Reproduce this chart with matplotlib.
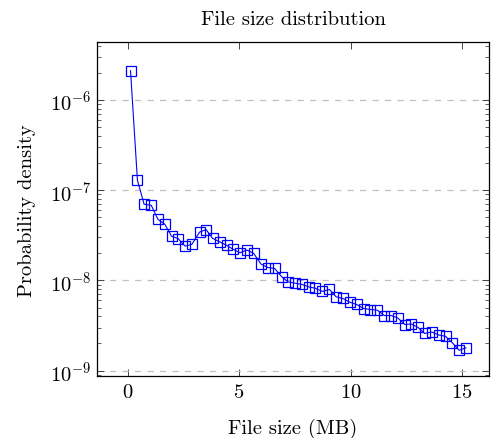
import matplotlib
matplotlib.use("Agg")
import matplotlib.pyplot as plt
from matplotlib.ticker import NullFormatter

plt.rcParams['font.family'] = ['cmr10', 'DejaVu Serif']
plt.rcParams['mathtext.fontset'] = 'cm'
plt.rcParams['axes.formatter.use_mathtext'] = True
plt.rcParams['axes.unicode_minus'] = True

# file size bin centres (MB)
size_mb = [0.13, 0.44, 0.74, 1.06, 1.36, 1.67, 1.97, 2.27, 2.58, 2.88,
           3.23, 3.52, 3.81, 4.14, 4.44, 4.74, 5.04, 5.35, 5.65, 5.98,
           6.29, 6.59, 6.91, 7.20, 7.51, 7.82, 8.13, 8.42, 8.74, 9.05,
           9.35, 9.65, 9.96, 10.27, 10.59, 10.89, 11.20, 11.51, 11.82, 12.12,
           12.44, 12.72, 13.03, 13.32, 13.64, 13.96, 14.26, 14.57, 14.87, 15.17]

# probability density
density = [2.12e-6, 1.29e-7, 6.99e-8, 6.81e-8, 4.76e-8, 4.19e-8, 3.10e-8, 2.90e-8, 2.40e-8, 2.51e-8,
           3.44e-8, 3.66e-8, 2.93e-8, 2.67e-8, 2.45e-8, 2.21e-8, 2.03e-8, 2.17e-8, 2.00e-8, 1.52e-8,
           1.39e-8, 1.36e-8, 1.10e-8, 9.62e-9, 9.33e-9, 9.03e-9, 8.48e-9, 8.19e-9, 7.55e-9, 7.94e-9,
           6.59e-9, 6.31e-9, 5.74e-9, 5.41e-9, 4.88e-9, 4.76e-9, 4.68e-9, 4.08e-9, 4.08e-9, 3.83e-9,
           3.24e-9, 3.29e-9, 3.01e-9, 2.58e-9, 2.68e-9, 2.48e-9, 2.40e-9, 2.03e-9, 1.68e-9, 1.79e-9]

fs = 14.8

fig = plt.figure(figsize=(5.0, 4.39), dpi=100)
ax = fig.add_axes([0.1946, 0.1412, 0.783, 0.760])

ax.plot(size_mb, density, color='#0000ff', lw=0.8, marker='s', ms=7.2,
        mfc='none', mec='#0000ff', mew=0.9)

ax.set_yscale('log')
ax.set_xlim(-1.36, 16.2)
ax.set_ylim(10**-9.06, 10**-5.36)
ax.set_xticks([0, 5, 10, 15])
ax.yaxis.set_minor_formatter(NullFormatter())

ax.grid(True, axis='y', which='major', ls=(0, (5, 5)), color='#c0c0c0', lw=0.9)
ax.set_axisbelow(True)

ax.tick_params(which='both', direction='in', top=True, right=True,
               color='#444444', labelsize=fs)
ax.tick_params(which='major', length=5, width=0.7)
ax.tick_params(which='minor', length=3, width=0.6)
ax.tick_params(axis='x', pad=5)
ax.tick_params(axis='y', pad=4)
for s in ax.spines.values():
    s.set_linewidth(0.9)

ax.set_xlabel('File size (MB)', fontsize=fs, labelpad=12.5)
ax.set_ylabel('Probability density', fontsize=fs, labelpad=10.5)
ax.set_title('File size distribution', fontsize=fs, pad=13.5)

fig.savefig('out.png', dpi=100)
